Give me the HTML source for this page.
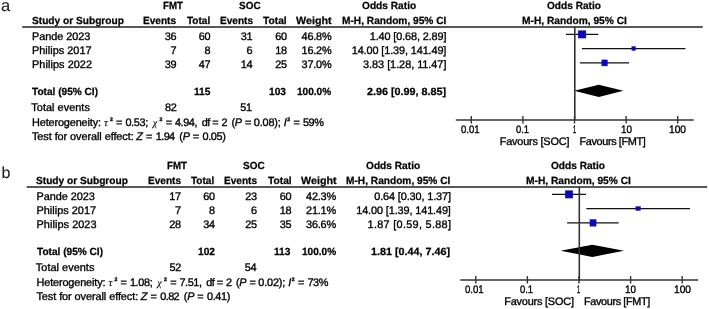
<!DOCTYPE html>
<html><head><meta charset="utf-8"><style>
html,body{margin:0;padding:0;background:#fff;}
body{width:709px;height:309px;position:relative;overflow:hidden;font-family:"Liberation Sans",sans-serif;color:#000;}
#tx{position:absolute;left:0;top:0;width:709px;height:309px;filter:grayscale(1);}
.t{position:absolute;white-space:pre;line-height:20px;font-size:10.6px;text-rendering:geometricPrecision;-webkit-text-stroke:0.35px #000;}
.b{font-weight:bold;-webkit-text-stroke:0.25px #000;}
.i{font-style:italic;}
.si{font-family:"Liberation Serif",serif;font-style:italic;}
svg{position:absolute;left:0;top:0;}
</style></head><body>
<svg width="709" height="309" viewBox="0 0 709 309">
<line x1="22.20" y1="26.95" x2="702.70" y2="26.95" stroke="#585858" stroke-width="2"/>
<line x1="565.86" y1="34.40" x2="598.28" y2="34.40" stroke="#111" stroke-width="1.25"/>
<rect x="578.19" y="30.75" width="7.70" height="7.30" fill="#0808c4" stroke="#141490" stroke-width="0.5"/>
<line x1="581.88" y1="48.50" x2="685.48" y2="48.50" stroke="#111" stroke-width="1.25"/>
<rect x="631.89" y="46.65" width="3.50" height="3.70" fill="#0808c4" stroke="#141490" stroke-width="0.5"/>
<line x1="580.03" y1="62.90" x2="629.17" y2="62.90" stroke="#111" stroke-width="1.25"/>
<rect x="601.84" y="59.90" width="5.50" height="6.00" fill="#0808c4" stroke="#141490" stroke-width="0.5"/>
<polygon points="574.27,90.80 598.82,84.70 623.36,90.80 598.82,96.90" fill="#000"/>
<line x1="574.80" y1="27.00" x2="574.80" y2="120.00" stroke="#333" stroke-width="1.6"/>
<line x1="455.80" y1="120.00" x2="693.70" y2="120.00" stroke="#333" stroke-width="1.6"/>
<line x1="471.30" y1="116.00" x2="471.30" y2="123.50" stroke="#333" stroke-width="1.4"/>
<line x1="522.90" y1="116.00" x2="522.90" y2="123.50" stroke="#333" stroke-width="1.4"/>
<line x1="574.50" y1="116.00" x2="574.50" y2="123.50" stroke="#333" stroke-width="1.4"/>
<line x1="626.10" y1="116.00" x2="626.10" y2="123.50" stroke="#333" stroke-width="1.4"/>
<line x1="677.70" y1="116.00" x2="677.70" y2="123.50" stroke="#333" stroke-width="1.4"/>
<line x1="26.70" y1="186.95" x2="707.20" y2="186.95" stroke="#585858" stroke-width="2"/>
<line x1="552.02" y1="194.40" x2="586.05" y2="194.40" stroke="#111" stroke-width="1.25"/>
<rect x="565.25" y="190.75" width="7.50" height="7.30" fill="#0808c4" stroke="#141490" stroke-width="0.5"/>
<line x1="586.38" y1="208.50" x2="689.98" y2="208.50" stroke="#111" stroke-width="1.25"/>
<rect x="635.89" y="206.65" width="4.50" height="3.70" fill="#0808c4" stroke="#141490" stroke-width="0.5"/>
<line x1="567.18" y1="222.90" x2="618.70" y2="222.90" stroke="#111" stroke-width="1.25"/>
<rect x="589.98" y="219.65" width="6.10" height="6.50" fill="#0808c4" stroke="#141490" stroke-width="0.5"/>
<polygon points="560.60,250.80 592.30,244.70 624.03,250.80 592.30,256.90" fill="#000"/>
<line x1="579.30" y1="187.00" x2="579.30" y2="280.00" stroke="#333" stroke-width="1.6"/>
<line x1="460.30" y1="280.00" x2="698.20" y2="280.00" stroke="#333" stroke-width="1.6"/>
<line x1="475.80" y1="276.00" x2="475.80" y2="283.50" stroke="#333" stroke-width="1.4"/>
<line x1="527.40" y1="276.00" x2="527.40" y2="283.50" stroke="#333" stroke-width="1.4"/>
<line x1="579.00" y1="276.00" x2="579.00" y2="283.50" stroke="#333" stroke-width="1.4"/>
<line x1="630.60" y1="276.00" x2="630.60" y2="283.50" stroke="#333" stroke-width="1.4"/>
<line x1="682.20" y1="276.00" x2="682.20" y2="283.50" stroke="#333" stroke-width="1.4"/>
</svg>
<div id="tx">
<span class="t" style="left:0.90px;top:-4px;font-size:16.5px;-webkit-text-stroke:0.1px #222;color:#222;">a</span>
<span class="t b" style="left:162.60px;top:-3px;font-size:10.4px;transform:scaleX(0.9363);transform-origin:0 0;">FMT</span>
<span class="t b" style="left:238.50px;top:-3px;font-size:10.4px;transform:scaleX(0.9583);transform-origin:0 0;">SOC</span>
<span class="t b" style="left:361.80px;top:-3px;font-size:10.4px;transform:scaleX(0.9773);transform-origin:0 0;">Odds Ratio</span>
<span class="t b" style="left:546.90px;top:-3px;font-size:10.4px;transform:scaleX(0.9737);transform-origin:0 0;">Odds Ratio</span>
<span class="t b" style="left:31.50px;top:12px;font-size:10.4px;transform:scaleX(0.9771);transform-origin:0 0;">Study or Subgroup</span>
<span class="t b" style="left:143.00px;top:12px;font-size:10.4px;transform:scaleX(0.9707);transform-origin:0 0;">Events</span>
<span class="t b" style="left:186.50px;top:12px;font-size:10.4px;transform:scaleX(0.9635);transform-origin:0 0;">Total</span>
<span class="t b" style="left:219.60px;top:12px;font-size:10.4px;transform:scaleX(0.9677);transform-origin:0 0;">Events</span>
<span class="t b" style="left:263.00px;top:12px;font-size:10.4px;transform:scaleX(0.9842);transform-origin:0 0;">Total</span>
<span class="t b" style="left:296.00px;top:12px;font-size:10.4px;transform:scaleX(1.0325);transform-origin:0 0;">Weight</span>
<span class="t b" style="left:341.50px;top:12px;font-size:10.4px;transform:scaleX(0.9766);transform-origin:0 0;">M-H, Random, 95% CI</span>
<span class="t b" style="left:521.50px;top:12px;font-size:10.4px;transform:scaleX(0.9822);transform-origin:0 0;">M-H, Random, 95% CI</span>
<span class="t" style="left:32.00px;top:27px;font-size:10.9px;letter-spacing:-0.044px;">Pande 2023</span>
<span class="t" style="left:164.80px;top:27px;font-size:10.9px;letter-spacing:-0.320px;">36</span>
<span class="t" style="left:198.70px;top:27px;font-size:10.9px;letter-spacing:-0.320px;">60</span>
<span class="t" style="left:240.70px;top:27px;font-size:10.9px;letter-spacing:-0.320px;">31</span>
<span class="t" style="left:275.20px;top:27px;font-size:10.9px;letter-spacing:-0.320px;">60</span>
<span class="t" style="left:301.60px;top:27px;font-size:10.9px;letter-spacing:-0.225px;">46.8%</span>
<span class="t" style="left:369.80px;top:27px;font-size:10.9px;letter-spacing:-0.130px;">1.40 [0.68, 2.89]</span>
<span class="t" style="left:32.00px;top:41px;font-size:10.9px;letter-spacing:0.020px;">Philips 2017</span>
<span class="t" style="left:170.54px;top:41px;font-size:10.9px;">7</span>
<span class="t" style="left:204.44px;top:41px;font-size:10.9px;">8</span>
<span class="t" style="left:246.44px;top:41px;font-size:10.9px;">6</span>
<span class="t" style="left:275.20px;top:41px;font-size:10.9px;letter-spacing:-0.320px;">18</span>
<span class="t" style="left:301.60px;top:41px;font-size:10.9px;letter-spacing:-0.225px;">16.2%</span>
<span class="t" style="left:351.70px;top:41px;font-size:10.9px;letter-spacing:-0.115px;">14.00 [1.39, 141.49]</span>
<span class="t" style="left:32.00px;top:55px;font-size:10.9px;letter-spacing:0.065px;">Philips 2022</span>
<span class="t" style="left:164.80px;top:55px;font-size:10.9px;letter-spacing:-0.320px;">39</span>
<span class="t" style="left:198.70px;top:55px;font-size:10.9px;letter-spacing:-0.320px;">47</span>
<span class="t" style="left:240.70px;top:55px;font-size:10.9px;letter-spacing:-0.320px;">14</span>
<span class="t" style="left:275.20px;top:55px;font-size:10.9px;letter-spacing:-0.320px;">25</span>
<span class="t" style="left:301.60px;top:55px;font-size:10.9px;letter-spacing:-0.225px;">37.0%</span>
<span class="t" style="left:363.10px;top:55px;font-size:10.9px;letter-spacing:-0.038px;">3.83 [1.28, 11.47]</span>
<span class="t b" style="left:32.00px;top:83px;font-size:10.4px;transform:scaleX(0.9721);transform-origin:0 0;">Total (95% CI)</span>
<span class="t b" style="left:193.64px;top:83px;font-size:10.4px;transform:scaleX(0.9809);transform-origin:0 0;">115</span>
<span class="t b" style="left:269.38px;top:83px;font-size:10.4px;transform:scaleX(0.9804);transform-origin:0 0;">103</span>
<span class="t b" style="left:297.40px;top:83px;font-size:10.4px;transform:scaleX(0.9694);transform-origin:0 0;">100.0%</span>
<span class="t b" style="left:366.90px;top:83px;font-size:10.4px;transform:scaleX(1.0377);transform-origin:0 0;">2.96 [0.99, 8.85]</span>
<span class="t" style="left:31.30px;top:98px;font-size:10.9px;letter-spacing:0.040px;">Total events</span>
<span class="t" style="left:164.90px;top:98px;font-size:10.9px;letter-spacing:-0.320px;">82</span>
<span class="t" style="left:240.30px;top:98px;font-size:10.9px;letter-spacing:-0.320px;">51</span>
<span class="t" style="left:32.00px;top:113px;font-size:10.9px;letter-spacing:-0.138px;">Heterogeneity:</span>
<span class="t si" style="left:104.10px;top:113px;font-size:11px;-webkit-text-stroke:0.1px #000;">τ</span>
<span class="t b" style="left:110.00px;top:110px;font-size:5.2px;-webkit-text-stroke:0.35px #000;">2</span>
<span class="t" style="left:116.10px;top:113px;font-size:10.9px;">=</span>
<span class="t" style="left:125.40px;top:113px;font-size:10.9px;letter-spacing:-0.335px;">0.53;</span>
<span class="t si" style="left:152.74px;top:114px;font-size:10.3px;-webkit-text-stroke:0.1px #000;">χ</span>
<span class="t b" style="left:159.40px;top:110px;font-size:5.2px;-webkit-text-stroke:0.35px #000;">2</span>
<span class="t" style="left:165.70px;top:113px;font-size:10.9px;">=</span>
<span class="t" style="left:175.00px;top:113px;font-size:10.9px;letter-spacing:-0.435px;">4.94,</span>
<span class="t" style="left:201.80px;top:113px;font-size:10.9px;letter-spacing:-0.720px;">df</span>
<span class="t" style="left:212.30px;top:113px;font-size:10.9px;">=</span>
<span class="t" style="left:221.60px;top:113px;font-size:10.9px;">2</span>
<span class="t" style="left:231.40px;top:113px;font-size:10.9px;">(</span>
<span class="t i" style="left:234.80px;top:113px;font-size:10.9px;">P</span>
<span class="t" style="left:244.90px;top:113px;font-size:10.9px;">=</span>
<span class="t" style="left:253.80px;top:113px;font-size:10.9px;letter-spacing:-0.156px;">0.08);</span>
<span class="t i" style="left:283.80px;top:113px;font-size:10.9px;">I</span>
<span class="t b" style="left:287.20px;top:110px;font-size:5.2px;-webkit-text-stroke:0.35px #000;">2</span>
<span class="t" style="left:293.60px;top:113px;font-size:10.9px;">=</span>
<span class="t" style="left:302.90px;top:113px;font-size:10.9px;letter-spacing:-0.360px;">59%</span>
<span class="t" style="left:32.00px;top:127px;font-size:10.9px;letter-spacing:-0.070px;">Test for overall effect:</span>
<span class="t i" style="left:136.22px;top:127px;font-size:10.9px;">Z</span>
<span class="t" style="left:146.10px;top:127px;font-size:10.9px;">=</span>
<span class="t" style="left:155.80px;top:127px;font-size:10.9px;letter-spacing:-0.607px;">1.94</span>
<span class="t" style="left:179.30px;top:127px;font-size:10.9px;">(</span>
<span class="t i" style="left:182.70px;top:127px;font-size:10.9px;">P</span>
<span class="t" style="left:192.70px;top:127px;font-size:10.9px;">=</span>
<span class="t" style="left:202.60px;top:127px;font-size:10.9px;letter-spacing:-0.410px;">0.05)</span>
<span class="t" style="left:460.70px;top:120px;font-size:10.9px;transform:scaleX(0.8812);transform-origin:0 0;">0.01</span>
<span class="t" style="left:515.60px;top:120px;font-size:10.9px;transform:scaleX(0.8641);transform-origin:0 0;">0.1</span>
<span class="t" style="left:572.70px;top:120px;font-size:10.9px;transform:scaleX(0.5281);transform-origin:0 0;">1</span>
<span class="t" style="left:620.60px;top:120px;font-size:10.9px;transform:scaleX(0.9076);transform-origin:0 0;">10</span>
<span class="t" style="left:669.10px;top:120px;font-size:10.9px;transform:scaleX(0.9351);transform-origin:0 0;">100</span>
<span class="t" style="left:499.70px;top:132px;font-size:10.9px;letter-spacing:-0.190px;">Favours [SOC]</span>
<span class="t" style="left:579.60px;top:132px;font-size:10.9px;letter-spacing:-0.388px;">Favours [FMT]</span>
<span class="t" style="left:1.40px;top:164px;font-size:16px;-webkit-text-stroke:0.1px #222;color:#222;">b</span>
<span class="t b" style="left:167.10px;top:157px;font-size:10.4px;transform:scaleX(0.9363);transform-origin:0 0;">FMT</span>
<span class="t b" style="left:243.00px;top:157px;font-size:10.4px;transform:scaleX(0.9583);transform-origin:0 0;">SOC</span>
<span class="t b" style="left:366.30px;top:157px;font-size:10.4px;transform:scaleX(0.9773);transform-origin:0 0;">Odds Ratio</span>
<span class="t b" style="left:551.40px;top:157px;font-size:10.4px;transform:scaleX(0.9737);transform-origin:0 0;">Odds Ratio</span>
<span class="t b" style="left:36.00px;top:172px;font-size:10.4px;transform:scaleX(0.9771);transform-origin:0 0;">Study or Subgroup</span>
<span class="t b" style="left:147.50px;top:172px;font-size:10.4px;transform:scaleX(0.9707);transform-origin:0 0;">Events</span>
<span class="t b" style="left:191.00px;top:172px;font-size:10.4px;transform:scaleX(0.9635);transform-origin:0 0;">Total</span>
<span class="t b" style="left:224.10px;top:172px;font-size:10.4px;transform:scaleX(0.9677);transform-origin:0 0;">Events</span>
<span class="t b" style="left:267.50px;top:172px;font-size:10.4px;transform:scaleX(0.9842);transform-origin:0 0;">Total</span>
<span class="t b" style="left:300.50px;top:172px;font-size:10.4px;transform:scaleX(1.0325);transform-origin:0 0;">Weight</span>
<span class="t b" style="left:346.00px;top:172px;font-size:10.4px;transform:scaleX(0.9766);transform-origin:0 0;">M-H, Random, 95% CI</span>
<span class="t b" style="left:526.00px;top:172px;font-size:10.4px;transform:scaleX(0.9822);transform-origin:0 0;">M-H, Random, 95% CI</span>
<span class="t" style="left:36.50px;top:187px;font-size:10.9px;letter-spacing:-0.044px;">Pande 2023</span>
<span class="t" style="left:169.30px;top:187px;font-size:10.9px;letter-spacing:-0.320px;">17</span>
<span class="t" style="left:203.20px;top:187px;font-size:10.9px;letter-spacing:-0.320px;">60</span>
<span class="t" style="left:245.20px;top:187px;font-size:10.9px;letter-spacing:-0.320px;">23</span>
<span class="t" style="left:279.70px;top:187px;font-size:10.9px;letter-spacing:-0.320px;">60</span>
<span class="t" style="left:306.10px;top:187px;font-size:10.9px;letter-spacing:-0.225px;">42.3%</span>
<span class="t" style="left:374.30px;top:187px;font-size:10.9px;letter-spacing:-0.130px;">0.64 [0.30, 1.37]</span>
<span class="t" style="left:36.50px;top:201px;font-size:10.9px;letter-spacing:0.020px;">Philips 2017</span>
<span class="t" style="left:175.04px;top:201px;font-size:10.9px;">7</span>
<span class="t" style="left:208.94px;top:201px;font-size:10.9px;">8</span>
<span class="t" style="left:250.94px;top:201px;font-size:10.9px;">6</span>
<span class="t" style="left:279.70px;top:201px;font-size:10.9px;letter-spacing:-0.320px;">18</span>
<span class="t" style="left:306.10px;top:201px;font-size:10.9px;letter-spacing:-0.225px;">21.1%</span>
<span class="t" style="left:356.20px;top:201px;font-size:10.9px;letter-spacing:-0.115px;">14.00 [1.39, 141.49]</span>
<span class="t" style="left:36.50px;top:215px;font-size:10.9px;letter-spacing:0.065px;">Philips 2023</span>
<span class="t" style="left:169.30px;top:215px;font-size:10.9px;letter-spacing:-0.320px;">28</span>
<span class="t" style="left:203.20px;top:215px;font-size:10.9px;letter-spacing:-0.320px;">34</span>
<span class="t" style="left:245.20px;top:215px;font-size:10.9px;letter-spacing:-0.320px;">25</span>
<span class="t" style="left:279.70px;top:215px;font-size:10.9px;letter-spacing:-0.320px;">35</span>
<span class="t" style="left:306.10px;top:215px;font-size:10.9px;letter-spacing:-0.225px;">36.6%</span>
<span class="t" style="left:367.60px;top:215px;font-size:10.9px;letter-spacing:0.289px;">1.87 [0.59, 5.88]</span>
<span class="t b" style="left:36.50px;top:243px;font-size:10.4px;transform:scaleX(0.9721);transform-origin:0 0;">Total (95% CI)</span>
<span class="t b" style="left:197.58px;top:243px;font-size:10.4px;transform:scaleX(0.9804);transform-origin:0 0;">102</span>
<span class="t b" style="left:274.44px;top:243px;font-size:10.4px;transform:scaleX(0.9809);transform-origin:0 0;">113</span>
<span class="t b" style="left:301.90px;top:243px;font-size:10.4px;transform:scaleX(0.9694);transform-origin:0 0;">100.0%</span>
<span class="t b" style="left:371.40px;top:243px;font-size:10.4px;transform:scaleX(1.0377);transform-origin:0 0;">1.81 [0.44, 7.46]</span>
<span class="t" style="left:35.80px;top:258px;font-size:10.9px;letter-spacing:0.040px;">Total events</span>
<span class="t" style="left:169.40px;top:258px;font-size:10.9px;letter-spacing:-0.320px;">52</span>
<span class="t" style="left:244.80px;top:258px;font-size:10.9px;letter-spacing:-0.320px;">54</span>
<span class="t" style="left:36.50px;top:273px;font-size:10.9px;letter-spacing:-0.138px;">Heterogeneity:</span>
<span class="t si" style="left:108.60px;top:273px;font-size:11px;-webkit-text-stroke:0.1px #000;">τ</span>
<span class="t b" style="left:114.50px;top:270px;font-size:5.2px;-webkit-text-stroke:0.35px #000;">2</span>
<span class="t" style="left:120.60px;top:273px;font-size:10.9px;">=</span>
<span class="t" style="left:129.90px;top:273px;font-size:10.9px;letter-spacing:-0.335px;">1.08;</span>
<span class="t si" style="left:157.24px;top:274px;font-size:10.3px;-webkit-text-stroke:0.1px #000;">χ</span>
<span class="t b" style="left:163.90px;top:270px;font-size:5.2px;-webkit-text-stroke:0.35px #000;">2</span>
<span class="t" style="left:170.20px;top:273px;font-size:10.9px;">=</span>
<span class="t" style="left:179.50px;top:273px;font-size:10.9px;letter-spacing:-0.435px;">7.51,</span>
<span class="t" style="left:206.30px;top:273px;font-size:10.9px;letter-spacing:-0.720px;">df</span>
<span class="t" style="left:216.80px;top:273px;font-size:10.9px;">=</span>
<span class="t" style="left:226.10px;top:273px;font-size:10.9px;">2</span>
<span class="t" style="left:235.90px;top:273px;font-size:10.9px;">(</span>
<span class="t i" style="left:239.30px;top:273px;font-size:10.9px;">P</span>
<span class="t" style="left:249.40px;top:273px;font-size:10.9px;">=</span>
<span class="t" style="left:258.30px;top:273px;font-size:10.9px;letter-spacing:-0.156px;">0.02);</span>
<span class="t i" style="left:288.30px;top:273px;font-size:10.9px;">I</span>
<span class="t b" style="left:291.70px;top:270px;font-size:5.2px;-webkit-text-stroke:0.35px #000;">2</span>
<span class="t" style="left:298.10px;top:273px;font-size:10.9px;">=</span>
<span class="t" style="left:307.40px;top:273px;font-size:10.9px;letter-spacing:-0.360px;">73%</span>
<span class="t" style="left:36.50px;top:287px;font-size:10.9px;letter-spacing:-0.070px;">Test for overall effect:</span>
<span class="t i" style="left:140.72px;top:287px;font-size:10.9px;">Z</span>
<span class="t" style="left:150.60px;top:287px;font-size:10.9px;">=</span>
<span class="t" style="left:160.30px;top:287px;font-size:10.9px;letter-spacing:-0.607px;">0.82</span>
<span class="t" style="left:183.80px;top:287px;font-size:10.9px;">(</span>
<span class="t i" style="left:187.20px;top:287px;font-size:10.9px;">P</span>
<span class="t" style="left:197.20px;top:287px;font-size:10.9px;">=</span>
<span class="t" style="left:207.10px;top:287px;font-size:10.9px;letter-spacing:-0.410px;">0.41)</span>
<span class="t" style="left:465.20px;top:280px;font-size:10.9px;transform:scaleX(0.8812);transform-origin:0 0;">0.01</span>
<span class="t" style="left:520.10px;top:280px;font-size:10.9px;transform:scaleX(0.8641);transform-origin:0 0;">0.1</span>
<span class="t" style="left:577.20px;top:280px;font-size:10.9px;transform:scaleX(0.5281);transform-origin:0 0;">1</span>
<span class="t" style="left:625.10px;top:280px;font-size:10.9px;transform:scaleX(0.9076);transform-origin:0 0;">10</span>
<span class="t" style="left:673.60px;top:280px;font-size:10.9px;transform:scaleX(0.9351);transform-origin:0 0;">100</span>
<span class="t" style="left:504.20px;top:292px;font-size:10.9px;letter-spacing:-0.190px;">Favours [SOC]</span>
<span class="t" style="left:584.10px;top:292px;font-size:10.9px;letter-spacing:-0.388px;">Favours [FMT]</span>
</div>
</body></html>
